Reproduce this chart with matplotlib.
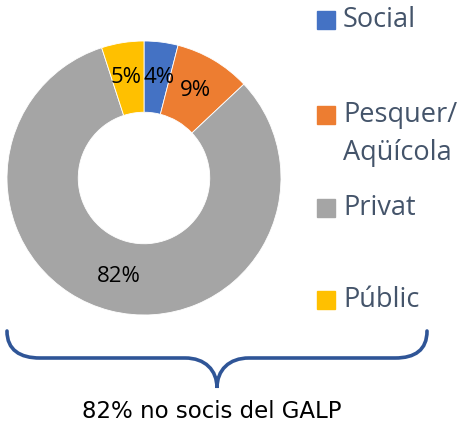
import matplotlib as mpl
mpl.use("Agg")
import matplotlib.pyplot as plt
from matplotlib.path import Path
from matplotlib.patches import PathPatch, Rectangle

# dades
categories = ["Social", "Pesquer/\nAqüícola", "Privat", "Públic"]
valors = [4, 9, 82, 5]
colors = ["#4472C4", "#ED7D31", "#A5A5A5", "#FFC000"]
nota = "82% no socis del GALP"

W, H = 464, 430
fig = plt.figure(figsize=(W / 100, H / 100), dpi=100)
ax = fig.add_axes([0, 0, 1, 1])

# donut (coordenades en píxels, y cap amunt)
cx, cy, r = 144, H - 178, 137
wedges, texts, autotexts = ax.pie(
    valors, colors=colors, startangle=90, counterclock=False,
    center=(cx, cy), radius=r, autopct="%.0f%%", pctdistance=0.74,
    wedgeprops=dict(width=r * 0.52, edgecolor="white", linewidth=0.6),
    textprops=dict(fontsize=16, color="black", family="Open Sans"),
    frame=True)
# separar una mica 5% i 4%
autotexts[0].set_x(autotexts[0].get_position()[0] + 2)
autotexts[3].set_x(autotexts[3].get_position()[0] - 2)
ax.set_xlim(0, W)
ax.set_ylim(0, H)
ax.axis("off")

# llegenda
leg_y = [20, 115, 208, 300]
for cat, col, y in zip(categories, colors, leg_y):
    ax.add_patch(Rectangle((317, H - y - 9), 18, 18, color=col))
    ty = H - y - 19 if "\n" in cat else H - y
    ax.text(343, ty, cat, fontsize=19.5, color="#44546A", family="Open Sans",
            va="center", linespacing=1.45)

# clau
def yy(v):
    return H - v

verts = [
    (7, yy(331)),
    (7, yy(350)), (20, yy(358)), (40, yy(358)),
    (185, yy(358)),
    (205, yy(358)), (217, yy(370)), (217, yy(388)),
    (217, yy(370)), (229, yy(358)), (249, yy(358)),
    (395, yy(358)),
    (415, yy(358)), (427, yy(350)), (427, yy(331)),
]
codes = [Path.MOVETO, Path.CURVE4, Path.CURVE4, Path.CURVE4, Path.LINETO,
         Path.CURVE4, Path.CURVE4, Path.CURVE4,
         Path.CURVE4, Path.CURVE4, Path.CURVE4, Path.LINETO,
         Path.CURVE4, Path.CURVE4, Path.CURVE4]
ax.add_patch(PathPatch(Path(verts, codes), facecolor="none", edgecolor="#2F5597",
                       linewidth=2.6, capstyle="round"))

ax.text(212, yy(412), nota, fontsize=16.5, color="black", ha="center", va="center")

fig.savefig("out.png", dpi=100)
